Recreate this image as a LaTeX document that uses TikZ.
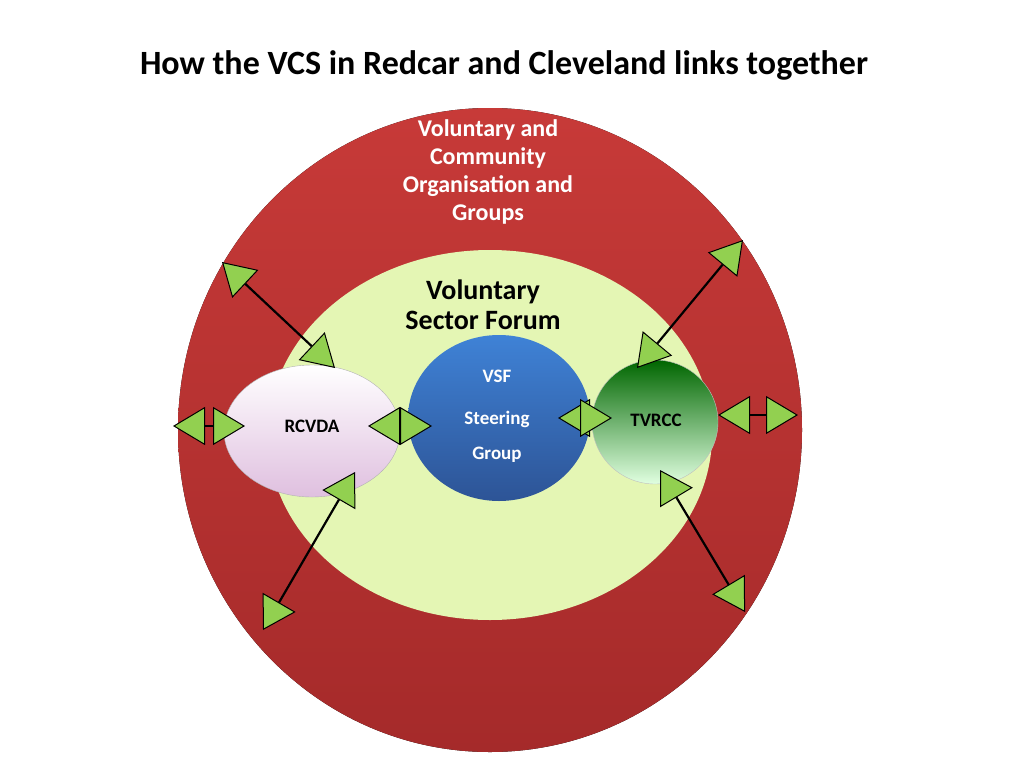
\documentclass[tikz,border=0pt]{standalone}
\usepackage{fontspec}
\setmainfont{Carlito}
\usetikzlibrary{arrows.meta}
\definecolor{ringred}{HTML}{C73A38}
\definecolor{ringdark}{HTML}{A52A2A}
\definecolor{forum}{HTML}{E4F6B4}
\definecolor{tri}{HTML}{92D050}
\definecolor{vsftop}{HTML}{3F82D6}
\definecolor{vsfbot}{HTML}{2D5496}
\begin{document}
\begin{tikzpicture}[x=1pt,y=-1pt,
  link/.style={line width=2.2pt,{Triangle[length=32pt,width=38pt,fill=tri,line width=1pt]}-{Triangle[length=32pt,width=38pt,fill=tri,line width=1pt]}},
  ringtxt/.style={text=white,font=\bfseries\fontsize{24}{28}\selectfont,align=center},
  small/.style={font=\bfseries\fontsize{19}{22}\selectfont}]
\useasboundingbox (0,0) rectangle (1024,768);
\fill[top color=ringred,bottom color=ringdark] (490,430) ellipse (312 and 322);
\fill[forum] (490,435) ellipse (222 and 185);
\node[ringtxt] (ring) at (488,172) {Voluntary and\\Community\\Organisation and\\Groups};
\node[font=\bfseries\fontsize{28}{30}\selectfont,align=center] (vsf) at (483,305) {Voluntary\\Sector Forum};
\node[font=\bfseries\fontsize{34}{40}\selectfont] (title) at (504,65) {How the VCS in Redcar and Cleveland links together};
\shade[top color=white,bottom color=violet!25,draw=gray!60] (312,431) ellipse (88 and 66);
\shade[top color=vsftop,bottom color=vsfbot] (499,418) ellipse (91 and 83);
\shade[top color=green!40!black,bottom color=green!12,draw=gray!50] (655,422) ellipse (63 and 62);
\node[small] (rcvda) at (312,426) {RCVDA};
\node[small] (tvrcc) at (656,420) {TVRCC};
\node[small,text=white] (v1) at (497,376) {VSF};
\node[small,text=white] (v2) at (497,419) {Steering};
\node[small,text=white] (v3) at (497,455) {Group};
\coordinate (a1) at (222,262); \coordinate (b1) at (335,368);
\coordinate (a2) at (173,426); \coordinate (b2) at (245,426);
\coordinate (a3) at (368,426); \coordinate (b3) at (432,426);
\coordinate (a4) at (558,418); \coordinate (b4) at (612,418);
\coordinate (a5) at (718,415); \coordinate (b5) at (798,415);
\coordinate (a6) at (743,240); \coordinate (b6) at (637,368);
\coordinate (a7) at (355,472); \coordinate (b7) at (263,630);
\coordinate (a8) at (660,470); \coordinate (b8) at (745,612);
\foreach \i in {1,...,8} \draw[link] (a\i) -- (b\i);
\end{tikzpicture}
\end{document}
